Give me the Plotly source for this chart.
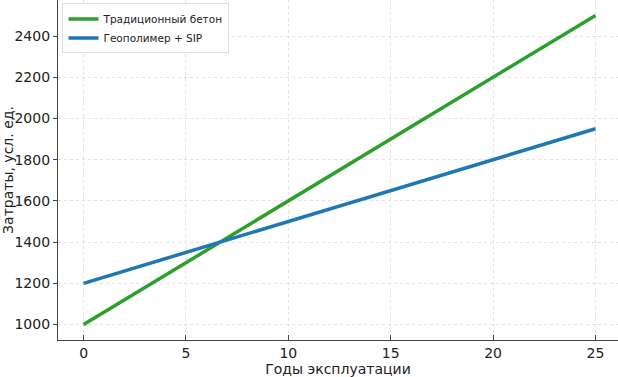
import plotly.graph_objects as go

years = [0, 5, 10, 15, 20, 25]
traditional = [1000, 1300, 1600, 1900, 2200, 2500]
geopolymer = [1200, 1350, 1500, 1650, 1800, 1950]
names = ["Традиционный бетон", "Геополимер + SIP"]
x_ticks = [0, 5, 10, 15, 20, 25]
y_ticks = [1000, 1200, 1400, 1600, 1800, 2000, 2200, 2400]

fig = go.Figure()
fig.add_trace(go.Scatter(x=years, y=traditional, mode="lines", name=names[0],
                         line=dict(color="#2ca02c", width=3.5)))
fig.add_trace(go.Scatter(x=years, y=geopolymer, mode="lines", name=names[1],
                         line=dict(color="#1f77b4", width=3.5)))

font = "DejaVu Sans, sans-serif"
fig.update_layout(
    width=618, height=377,
    margin=dict(l=58, r=0, t=0, b=37, autoexpand=False),
    paper_bgcolor="white", plot_bgcolor="white",
    font=dict(family=font, size=14, color="#222"),
    showlegend=True,
    legend=dict(x=0.008, y=0.99, xanchor="left", yanchor="top",
                bgcolor="rgba(255,255,255,0.85)", bordercolor="#ddd", borderwidth=1,
                font=dict(size=10.5, family=font), tracegroupgap=0,
                itemwidth=30),
    xaxis=dict(range=[-1.25, 26.1], tickvals=x_ticks, showgrid=True,
               gridcolor="#e2e2e2", griddash="dot", gridwidth=1,
               showline=True, linecolor="#444", linewidth=1.2,
               ticks="inside", ticklen=5, tickcolor="#444", zeroline=False,
               automargin=False,
               title=dict(text="Годы эксплуатации", font=dict(size=14), standoff=0)),
    yaxis=dict(range=[925, 2575], tickvals=y_ticks, showgrid=True,
               gridcolor="#e2e2e2", griddash="dot", gridwidth=1,
               showline=True, linecolor="#444", linewidth=1.2,
               ticks="outside", ticklen=4, tickcolor="#444", zeroline=False,
               automargin=False,
               title=dict(text="Затраты, усл. ед.", font=dict(size=14), standoff=0)),
)

fig.write_html("out.html", config={"displayModeBar": False},
               post_script="document.body.style.margin='0';document.body.style.overflow='hidden';")
